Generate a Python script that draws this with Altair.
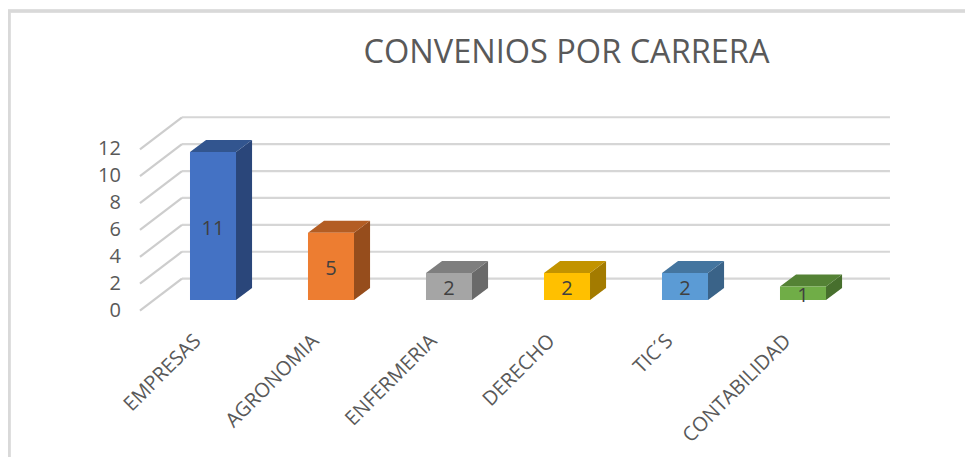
import altair as alt
import pandas as pd

# ---- data ----
categories = ["EMPRESAS", "AGRONOMIA", "ENFERMERIA", "DERECHO", "TIC´S", "CONTABILIDAD"]
values = [11, 5, 2, 2, 2, 1]
y_ticks = [0, 2, 4, 6, 8, 10, 12]
title_text = "CONVENIOS POR CARRERA"

# ---- styles ----
front_colors = ["#4472C4", "#ED7D31", "#A5A5A5", "#FFC000", "#5B9BD5", "#70AD47"]
top_colors = ["#32558F", "#B35D23", "#7E7E7E", "#C29300", "#44759F", "#548235"]
side_colors = ["#2A467A", "#964D1C", "#6A6A6A", "#A37B00", "#3A6388", "#476F2D"]
FONT = "Open Sans"
TEXT = "#595959"

# ---- pseudo-3D geometry (in scale units) ----
HALF = 0.195      # half width of the bar front face (category units)
DX = 0.136        # depth shift in x (category units)
DZ = 0.89         # depth shift in y (value units)
BASE = 0.8        # bar front face base above the front floor edge
WALL_X0, WALL_X1, WALL_XR, WALL_DZ = -0.619, -0.263, 5.737, 2.38

W, H = 957, 449
xs = alt.Scale(domain=[-1.7373, 6.3729], nice=False, zero=False)
ys = alt.Scale(domain=[-10.884, 22.506], nice=False, zero=False)
cscale = lambda rng: alt.Scale(domain=categories, range=rng)

front = pd.DataFrame({
    "cat": categories, "v": values, "i": range(len(categories)),
})
front["x0"] = front["i"] - HALF
front["x1"] = front["i"] + HALF
front["y0"] = BASE
front["y1"] = front["v"] + BASE
front["ylab"] = front["v"] / 2 + BASE
front["xl"] = front["i"] - 0.13

side_rows, top_rows = [], []
for i, (c, v) in enumerate(zip(categories, values)):
    r = i + HALF
    side_rows.append({"cat": c, "x": r, "y0": BASE, "y1": v + BASE})
    side_rows.append({"cat": c, "x": r + DX, "y0": BASE + DZ, "y1": v + BASE + DZ})
    top_rows.append({"cat": c, "y": v + BASE, "x0": i - HALF, "x1": i + HALF})
    top_rows.append({"cat": c, "y": v + BASE + DZ, "x0": i - HALF + DX, "x1": i + HALF + DX})
side = pd.DataFrame(side_rows)
top = pd.DataFrame(top_rows)

ticks = pd.DataFrame({"v": y_ticks})
ticks["vb"] = ticks["v"] + WALL_DZ
ticks["xa"] = WALL_X0
ticks["xb"] = WALL_X1
ticks["xr"] = WALL_XR
ticks["xt"] = -0.78

# back wall gridlines
grid = alt.Chart(ticks).mark_rule(color="#d6d6d6", strokeWidth=2.2).encode(
    x=alt.X("xb:Q", scale=xs, axis=None), x2="xr:Q",
    y=alt.Y("vb:Q", scale=ys, axis=None),
)
# side wall diagonal lines
diag = alt.Chart(ticks).mark_rule(color="#cdcdcd", strokeWidth=2.2).encode(
    x=alt.X("xa:Q", scale=xs, axis=None), x2="xb:Q",
    y=alt.Y("v:Q", scale=ys, axis=None), y2="vb:Q",
)
ylabels = alt.Chart(ticks).mark_text(
    align="right", baseline="middle", font=FONT, fontSize=20, color=TEXT
).encode(
    x=alt.X("xt:Q", scale=xs, axis=None),
    y=alt.Y("v:Q", scale=ys, axis=None),
    text="v:Q",
)

side_face = alt.Chart(side).mark_area(opacity=1).encode(
    x=alt.X("x:Q", scale=xs, axis=None),
    y=alt.Y("y0:Q", scale=ys, axis=None, stack=None), y2="y1:Q",
    color=alt.Color("cat:N", scale=cscale(side_colors), legend=None),
    detail="cat:N",
)
top_face = alt.Chart(top).mark_area(orient="horizontal", opacity=1).encode(
    y=alt.Y("y:Q", scale=ys, axis=None),
    x=alt.X("x0:Q", scale=xs, axis=None, stack=None), x2="x1:Q",
    color=alt.Color("cat:N", scale=cscale(top_colors), legend=None),
    detail="cat:N",
)
front_face = alt.Chart(front).mark_rect().encode(
    x=alt.X("x0:Q", scale=xs, axis=None), x2="x1:Q",
    y=alt.Y("y0:Q", scale=ys, axis=None), y2="y1:Q",
    color=alt.Color("cat:N", scale=cscale(front_colors), legend=None),
)
labels = alt.Chart(front).mark_text(
    font=FONT, fontSize=20, color="#404040", baseline="middle", dy=3
).encode(
    x=alt.X("i:Q", scale=xs, axis=None),
    y=alt.Y("ylab:Q", scale=ys, axis=None),
    text="v:Q",
)
xlabels = alt.Chart(front).mark_text(
    font=FONT, fontSize=20, color=TEXT, angle=315, align="right", baseline="middle"
).encode(
    x=alt.X("xl:Q", scale=xs, axis=None),
    y=alt.value(330),
    text="cat:N",
)

frame_top = alt.Chart(ticks).mark_rule(color="#d9d9d9", strokeWidth=2.5).encode(
    x=alt.value(0), x2=alt.value(W), y=alt.value(3)
)
frame_left = alt.Chart(ticks).mark_rule(color="#d9d9d9", strokeWidth=2.5).encode(
    x=alt.value(1), y=alt.value(3), y2=alt.value(H)
)

chart = alt.layer(
    frame_top, frame_left, grid, diag, ylabels,
    side_face, top_face, front_face, labels, xlabels,
).properties(
    width=W, height=H,
    autosize=alt.AutoSizeParams(type="none"),
    padding=0,
    title=alt.TitleParams(
        text=title_text, font=FONT, fontSize=32.5, fontWeight="normal", color=TEXT,
        anchor="middle", dx=80, dy=32, offset=-55, baseline="alphabetic",
    ),
).configure_view(strokeWidth=0).resolve_scale(color="independent")

chart.save("out.html", embed_options={"renderer": "svg", "actions": False})
